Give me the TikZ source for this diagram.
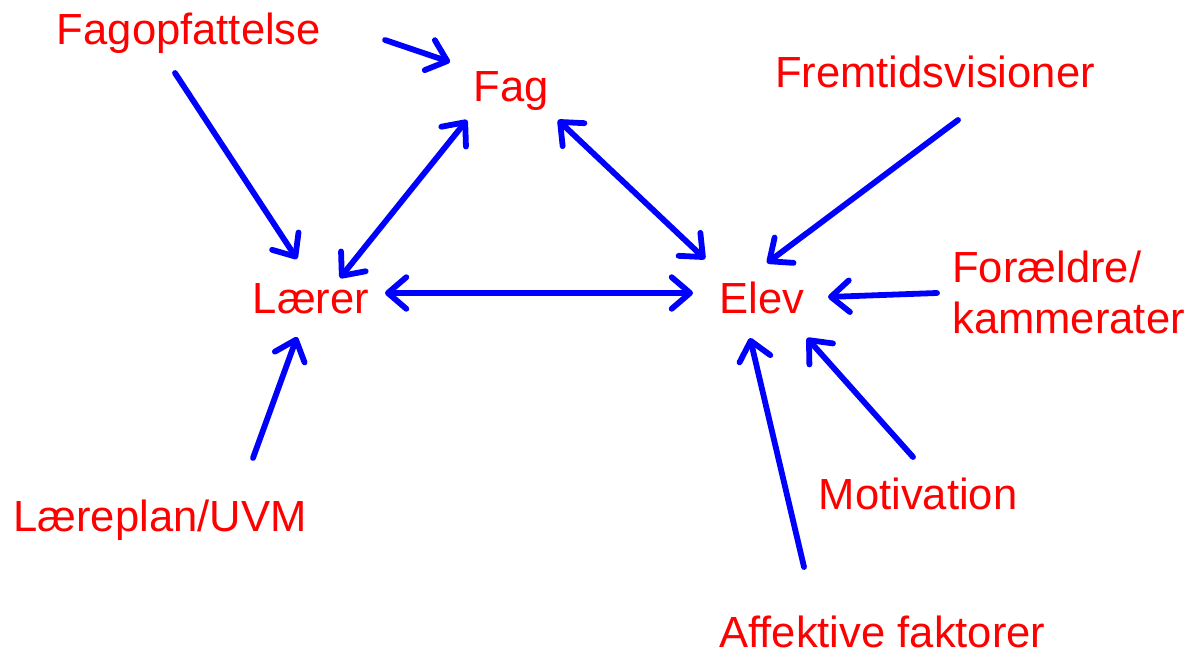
\documentclass[tikz,border=0pt]{standalone}
\usepackage{fontspec}
\setmainfont{Liberation Sans}
\usetikzlibrary{arrows.meta}

\tikzset{
  lbl/.style={text=red, inner sep=0pt, font=\fontsize{24.8}{28.5}\selectfont},
  spids/.tip={Straight Barb[length=10.5pt,width=18pt,round]},
  pil/.style={draw=blue, line width=3.3pt, line cap=round, -spids},
  dpil/.style={pil, spids-spids},
}

\begin{document}
\begin{tikzpicture}[x=0.02cm, y=-0.02cm]
\useasboundingbox (0,0) rectangle (1196,655);
\node[lbl, anchor=base] (fagopf) at (189,45) {Fagopfattelse};
\node[lbl, anchor=base] (fag) at (511,102) {Fag};
\node[lbl, anchor=base] (fremtid) at (935,88) {Fremtidsvisioner};
\node[lbl, anchor=base] (laerer) at (311,313) {Lærer};
\node[lbl, anchor=base] (elev) at (762,313) {Elev};
\node[lbl, anchor=base west, align=left] (foraeldre) at (952,333) {Forældre/\\kammerater};
\node[lbl, anchor=base] (laereplan) at (160,531) {Læreplan/UVM};
\node[lbl, anchor=base] (motiv) at (918,509) {Motivation};
\node[lbl, anchor=base west] (affekt) at (719,647) {Affektive faktorer};
%%%%%%%%%%%%%%
\coordinate (fagopf1) at (385,40);
\coordinate (fagopf2) at (175,73);
\coordinate (fag1) at (450,62);
\coordinate (fag2) at (467,120);
\coordinate (fag3) at (558,120);
\coordinate (laerer1) at (297,259);
\coordinate (laerer2) at (340,278);
\coordinate (laerer3) at (385,293);
\coordinate (laerer4) at (297,337);
\coordinate (elev1) at (705,259);
\coordinate (elev2) at (767,263);
\coordinate (elev3) at (693,293);
\coordinate (elev4) at (828,297);
\coordinate (elev5) at (807,338);
\coordinate (elev6) at (750,338);
\coordinate (fremtid1) at (958,120);
\coordinate (foraeldre1) at (937,293);
\coordinate (motiv1) at (913,457);
\coordinate (affekt1) at (804,567);
\coordinate (laereplan1) at (253,458);
%%%%%%%%%%%%%%
\draw[pil] (fagopf1) -- (fag1);
\draw[pil] (fagopf2) -- (laerer1);
\draw[dpil] (laerer2) -- (fag2);
\draw[dpil] (fag3) -- (elev1);
\draw[dpil] (laerer3) -- (elev3);
\draw[pil] (laereplan1) -- (laerer4);
%%%%%%%%%%%%%%
\draw[pil] (fremtid1) -- (elev2);
\draw[pil] (foraeldre1) -- (elev4);
\draw[pil] (motiv1) -- (elev5);
\draw[pil] (affekt1) -- (elev6);
\end{tikzpicture}
\end{document}
